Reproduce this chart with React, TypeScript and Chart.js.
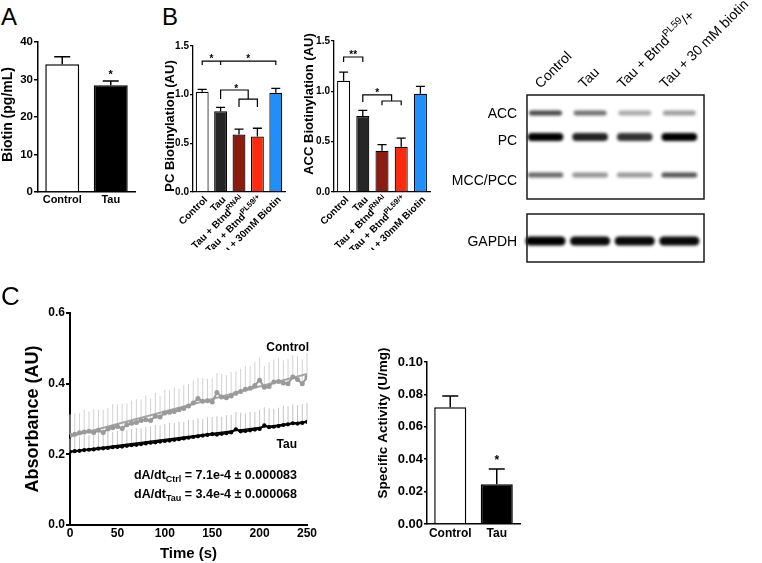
import React, { useEffect, useRef } from 'react';
import { Chart, registerables } from 'chart.js';

Chart.register(...registerables);

const FONT = '"Liberation Sans", Arial, Helvetica, sans-serif';
Chart.defaults.font.family = FONT;
Chart.defaults.color = '#000';

type Seg = { t: string; sup?: boolean; sub?: boolean };

// ===== Panel A : plasma biotin =====
const aLabels = ['Control', 'Tau'];
const aMeans = [34.1, 28.5];
const aErrs = [2.0, 1.1];
const aStars = ['', '*'];
const aColors = ['#ffffff', '#000000'];

// ===== Panel B : carboxylase biotinylation =====
const bLabels = ['Control', 'Tau', 'Tau + BtndRNAi', 'Tau + BtndPL59/+', 'Tau + 30mM Biotin'];
const bLabelSegs: Seg[][] = [
  [{ t: 'Control' }],
  [{ t: 'Tau' }],
  [{ t: 'Tau + Btnd' }, { t: 'RNAi', sup: true }],
  [{ t: 'Tau + Btnd' }, { t: 'PL59/+', sup: true }],
  [{ t: 'Tau + 30mM Biotin' }],
];
const bColors = ['#ffffff', '#262626', '#8c1b10', '#ff2a0c', '#1e8ffc'];
const pcMeans = [1.03, 0.83, 0.59, 0.57, 1.02];
const pcErrs = [0.025, 0.04, 0.055, 0.085, 0.045];
const accMeans = [1.105, 0.755, 0.41, 0.45, 0.975];
const accErrs = [0.085, 0.055, 0.06, 0.085, 0.075];
// significance brackets: polylines in (category index, value) coordinates
const pcSigLines: number[][][] = [
  [[0, 1.305], [0, 1.345], [4, 1.345], [4, 1.305]],
  [[1, 1.345], [1, 1.305]],
  [[1, 0.955], [1, 1.048], [2.5, 1.048], [2.5, 0.955]],
  [[2, 0.873], [2, 0.955], [3, 0.955], [3, 0.873]],
];
const pcSigStars = [
  { x: 0.5, y: 1.39, t: '*' },
  { x: 2.5, y: 1.39, t: '*' },
  { x: 1.85, y: 1.085, t: '*' },
];
const accSigLines: number[][][] = [
  [[0, 1.291], [0, 1.341], [1, 1.341], [1, 1.291]],
  [[1, 0.894], [1, 0.964], [2.5, 0.964], [2.5, 0.904]],
  [[2, 0.861], [2, 0.904], [3, 0.904], [3, 0.861]],
];
const accSigStars = [
  { x: 0.5, y: 1.39, t: '**' },
  { x: 1.75, y: 1.013, t: '*' },
];

// ===== Western blot =====
const blotLanes: Seg[][] = [
  [{ t: 'Control' }],
  [{ t: 'Tau' }],
  [{ t: 'Tau + Btnd' }, { t: 'PL59', sup: true }, { t: '/+' }],
  [{ t: 'Tau + 30 mM biotin' }],
];
const blotBands = ['ACC', 'PC', 'MCC/PCC', 'GAPDH'];
const bandMigration = [18, 42, 80, 146];
const bandLabelPos = [19, 46, 86, 147];
const bandSignal = [
  [0.72, 0.56, 0.33, 0.38],
  [1.0, 0.87, 0.8, 1.0],
  [0.6, 0.42, 0.4, 0.68],
  [1.0, 0.97, 0.97, 0.97],
];
const membranes = [[0, 104], [119, 167]];

// ===== Panel C : enzyme kinetics =====
const timeS = [0, 5, 10, 15, 20, 25, 30, 35, 40, 45, 50, 55, 60, 65, 70, 75, 80, 85, 90, 95, 100, 105, 110, 115, 120, 125, 130, 135, 140, 145, 150, 155, 160, 165, 170, 175, 180, 185, 190, 195, 200, 205, 210, 215, 220, 225, 230, 235, 240, 245, 250];
const ctrlAbs = [0.255, 0.257, 0.261, 0.263, 0.265, 0.262, 0.268, 0.262, 0.272, 0.275, 0.279, 0.273, 0.284, 0.288, 0.29, 0.296, 0.298, 0.296, 0.308, 0.306, 0.317, 0.319, 0.321, 0.326, 0.33, 0.337, 0.345, 0.358, 0.35, 0.352, 0.348, 0.375, 0.362, 0.36, 0.365, 0.373, 0.378, 0.384, 0.387, 0.395, 0.41, 0.39, 0.392, 0.405, 0.406, 0.402, 0.4, 0.419, 0.412, 0.4, 0.418];
const ctrlErr = [0.058, 0.06, 0.055, 0.062, 0.057, 0.066, 0.058, 0.064, 0.06, 0.067, 0.062, 0.07, 0.06, 0.064, 0.066, 0.059, 0.068, 0.062, 0.066, 0.06, 0.065, 0.063, 0.068, 0.06, 0.066, 0.062, 0.064, 0.058, 0.066, 0.062, 0.067, 0.055, 0.066, 0.064, 0.068, 0.062, 0.064, 0.066, 0.063, 0.067, 0.064, 0.06, 0.068, 0.063, 0.067, 0.064, 0.07, 0.062, 0.066, 0.069, 0.068];
const tauAbs = [0.207, 0.209, 0.21, 0.212, 0.213, 0.214, 0.216, 0.217, 0.218, 0.22, 0.221, 0.222, 0.224, 0.226, 0.227, 0.229, 0.231, 0.233, 0.234, 0.236, 0.238, 0.239, 0.241, 0.243, 0.245, 0.247, 0.249, 0.251, 0.253, 0.255, 0.257, 0.256, 0.258, 0.26, 0.262, 0.271, 0.265, 0.266, 0.268, 0.27, 0.272, 0.282, 0.277, 0.278, 0.28, 0.283, 0.285, 0.288, 0.287, 0.289, 0.292];
const tauErr = [0.038, 0.042, 0.04, 0.044, 0.041, 0.043, 0.045, 0.042, 0.046, 0.043, 0.045, 0.047, 0.044, 0.046, 0.048, 0.045, 0.047, 0.046, 0.049, 0.046, 0.048, 0.05, 0.047, 0.049, 0.046, 0.05, 0.048, 0.051, 0.047, 0.05, 0.049, 0.052, 0.048, 0.051, 0.05, 0.049, 0.053, 0.05, 0.052, 0.05, 0.054, 0.051, 0.053, 0.05, 0.052, 0.055, 0.051, 0.053, 0.052, 0.054, 0.053];
const fitTimes = [0, 250];
const ctrlFit = [0.2503, 0.4278];
const tauFit = [0.2082, 0.2932];
const ctrlSlope: Seg[] = [{ t: 'dA/dt' }, { t: 'Ctrl', sub: true }, { t: ' = 7.1e-4 ± 0.000083' }];
const tauSlope: Seg[] = [{ t: 'dA/dt' }, { t: 'Tau', sub: true }, { t: ' = 3.4e-4 ± 0.000068' }];

// ===== Panel C right : specific activity =====
const saLabels = ['Control', 'Tau'];
const saMeans = [0.072, 0.0245];
const saErrs = [0.007, 0.0095];
const saStars = ['', '*'];
const saColors = ['#ffffff', '#000000'];

function drawSegs(
  ctx: CanvasRenderingContext2D,
  segs: Seg[],
  x: number,
  y: number,
  o: { angle?: number; size: number; small: number; bold?: boolean; align?: 'left' | 'right'; dy?: number }
) {
  const w = o.bold ? 'bold ' : '';
  const main = `${w}${o.size}px ${FONT}`;
  const small = `${w}${o.small}px ${FONT}`;
  ctx.save();
  ctx.translate(x, y);
  if (o.angle) ctx.rotate(o.angle);
  ctx.textAlign = 'left';
  ctx.textBaseline = 'alphabetic';
  ctx.fillStyle = '#000';
  const widths = segs.map((s) => {
    ctx.font = s.sup || s.sub ? small : main;
    return ctx.measureText(s.t).width;
  });
  const total = widths.reduce((a, b) => a + b, 0);
  let cx = o.align === 'right' ? -total : 0;
  const dy = o.dy || 0;
  segs.forEach((s, i) => {
    ctx.font = s.sup || s.sub ? small : main;
    const off = s.sup ? -o.size * 0.42 : s.sub ? o.size * 0.3 : 0;
    ctx.fillText(s.t, cx, dy + off);
    cx += widths[i];
  });
  ctx.restore();
}

function drawStar(ctx: CanvasRenderingContext2D, t: string, x: number, yCenter: number, size: number) {
  ctx.save();
  ctx.font = `bold ${size}px ${FONT}`;
  ctx.textAlign = 'center';
  ctx.textBaseline = 'alphabetic';
  ctx.fillStyle = '#000';
  ctx.fillText(t, x, yCenter + size * 0.57);
  ctx.restore();
}

type BarOpts = {
  labels: string[];
  means: number[];
  errs: number[];
  colors: string[];
  yMax: number;
  yStep: number;
  dec: number;
  pad: { left: number; top: number; right: number; bottom: number };
  yWidth: number;
  xHeight: number;
  tickSize: number;
  tickLen: number;
  tickPad: number;
  showX: boolean;
  xSize: number;
  xPad: number;
  barPct: number;
  cap: number;
  lw: number;
  borderW: number;
  yTitle: string;
  yTitleSize: number;
  yTitleDx: number;
  yTitleDy: number;
  extra?: (chart: any) => void;
};

function barConfig(o: BarOpts): any {
  const overlay = {
    id: 'overlay',
    afterDatasetsDraw(chart: any) {
      const { ctx, chartArea } = chart;
      const x = chart.scales.x;
      const y = chart.scales.y;
      ctx.save();
      ctx.strokeStyle = '#000';
      ctx.lineWidth = o.lw;
      o.means.forEach((m, i) => {
        const px = x.getPixelForValue(i);
        const y0 = y.getPixelForValue(m);
        const y1 = y.getPixelForValue(m + o.errs[i]);
        ctx.beginPath();
        ctx.moveTo(px, y0);
        ctx.lineTo(px, y1);
        ctx.moveTo(px - o.cap, y1);
        ctx.lineTo(px + o.cap, y1);
        ctx.stroke();
      });
      ctx.restore();
      ctx.save();
      ctx.translate(chartArea.left - o.yTitleDx, (chartArea.top + chartArea.bottom) / 2 + o.yTitleDy);
      ctx.rotate(-Math.PI / 2);
      ctx.font = `bold ${o.yTitleSize}px ${FONT}`;
      ctx.textAlign = 'center';
      ctx.textBaseline = 'middle';
      ctx.fillStyle = '#000';
      ctx.fillText(o.yTitle, 0, 0);
      ctx.restore();
      if (o.extra) o.extra(chart);
    },
  };
  return {
    type: 'bar',
    data: {
      labels: o.labels,
      datasets: [
        {
          data: o.means,
          backgroundColor: o.colors,
          borderColor: '#000',
          borderWidth: o.borderW,
          barPercentage: o.barPct,
          categoryPercentage: 1,
        },
      ],
    },
    options: {
      responsive: false,
      animation: false,
      layout: { padding: o.pad },
      plugins: { legend: { display: false }, tooltip: { enabled: false } },
      scales: {
        x: {
          offset: true,
          grid: { display: false, drawTicks: false },
          border: { display: true, color: '#000', width: o.lw },
          ticks: {
            display: o.showX,
            font: { size: o.xSize, weight: 'bold' },
            color: '#000',
            padding: o.xPad,
            maxRotation: 0,
            autoSkip: false,
          },
          afterFit: (s: any) => {
            s.height = o.xHeight;
          },
        },
        y: {
          min: 0,
          max: o.yMax,
          grid: { display: true, drawOnChartArea: false, drawTicks: true, tickLength: o.tickLen, color: '#000', lineWidth: o.lw },
          border: { display: true, color: '#000', width: o.lw },
          ticks: {
            stepSize: o.yStep,
            font: { size: o.tickSize, weight: 'bold' },
            color: '#000',
            padding: o.tickPad,
            callback: (v: any) => Number(v).toFixed(o.dec),
          },
          afterFit: (s: any) => {
            s.width = o.yWidth;
          },
        },
      },
    },
    plugins: [overlay],
  };
}

function starsExtra(means: number[], errs: number[], stars: string[], size: number, gap: number) {
  return (chart: any) => {
    const { ctx } = chart;
    const x = chart.scales.x;
    const y = chart.scales.y;
    stars.forEach((s, i) => {
      if (!s) return;
      drawStar(ctx, s, x.getPixelForValue(i), y.getPixelForValue(means[i] + errs[i]) - gap, size);
    });
  };
}

function bExtra(lines: number[][][], stars: { x: number; y: number; t: string }[]) {
  return (chart: any) => {
    const { ctx, chartArea } = chart;
    const x = chart.scales.x;
    const y = chart.scales.y;
    ctx.save();
    ctx.strokeStyle = '#000';
    ctx.lineWidth = 1.2;
    lines.forEach((pl) => {
      ctx.beginPath();
      pl.forEach(([cx, cy], k) => {
        const px = x.getPixelForValue(cx);
        const py = y.getPixelForValue(cy);
        if (k === 0) ctx.moveTo(px, py);
        else ctx.lineTo(px, py);
      });
      ctx.stroke();
    });
    ctx.restore();
    stars.forEach((s) => drawStar(ctx, s.t, x.getPixelForValue(s.x), y.getPixelForValue(s.y), 10));
    bLabelSegs.forEach((segs, i) => {
      drawSegs(ctx, segs, x.getPixelForValue(i) + 0.5, chartArea.bottom + 3, {
        angle: -Math.PI / 4,
        size: 10,
        small: 7.5,
        bold: true,
        align: 'right',
        dy: 7.4,
      });
    });
  };
}

function makeA() {
  return barConfig({
    labels: aLabels,
    means: aMeans,
    errs: aErrs,
    colors: aColors,
    yMax: 40,
    yStep: 10,
    dec: 0,
    pad: { left: 0, top: 12, right: 5, bottom: 0 },
    yWidth: 38,
    xHeight: 28,
    tickSize: 11.5,
    tickLen: 4,
    tickPad: 1,
    showX: true,
    xSize: 11,
    xPad: 1.4,
    barPct: 0.7,
    cap: 8,
    lw: 1.5,
    borderW: 1.5,
    yTitle: 'Biotin (pg/mL)',
    yTitleSize: 14,
    yTitleDx: 30,
    yTitleDy: -2.5,
    extra: starsExtra(aMeans, aErrs, aStars, 11, 9),
  });
}

function makePC() {
  return barConfig({
    labels: bLabels,
    means: pcMeans,
    errs: pcErrs,
    colors: bColors,
    yMax: 1.5,
    yStep: 0.5,
    dec: 1,
    pad: { left: 0, top: 16, right: 10, bottom: 0 },
    yWidth: 43,
    xHeight: 58,
    tickSize: 10,
    tickLen: 3,
    tickPad: 1,
    showX: false,
    xSize: 10,
    xPad: 0,
    barPct: 0.7,
    cap: 4.5,
    lw: 1.3,
    borderW: 1.2,
    yTitle: 'PC Biotinylation (AU)',
    yTitleSize: 13,
    yTitleDx: 23,
    yTitleDy: 7,
    extra: bExtra(pcSigLines, pcSigStars),
  });
}

function makeACC() {
  return barConfig({
    labels: bLabels,
    means: accMeans,
    errs: accErrs,
    colors: bColors,
    yMax: 1.5,
    yStep: 0.5,
    dec: 1,
    pad: { left: 0, top: 11, right: 10, bottom: 0 },
    yWidth: 39,
    xHeight: 58,
    tickSize: 10,
    tickLen: 3,
    tickPad: 1,
    showX: false,
    xSize: 10,
    xPad: 0,
    barPct: 0.68,
    cap: 4.5,
    lw: 1.3,
    borderW: 1.2,
    yTitle: 'ACC Biotinylation (AU)',
    yTitleSize: 13,
    yTitleDx: 25,
    yTitleDy: -12.5,
    extra: bExtra(accSigLines, accSigStars),
  });
}

function makeSA() {
  return barConfig({
    labels: saLabels,
    means: saMeans,
    errs: saErrs,
    colors: saColors,
    yMax: 0.1,
    yStep: 0.02,
    dec: 2,
    pad: { left: 0, top: 32, right: 10, bottom: 0 },
    yWidth: 67,
    xHeight: 39,
    tickSize: 13,
    tickLen: 3,
    tickPad: 1,
    showX: true,
    xSize: 12,
    xPad: 2.8,
    barPct: 0.69,
    cap: 8,
    lw: 1.5,
    borderW: 1.5,
    yTitle: 'Specific Activity (U/mg)',
    yTitleSize: 13.5,
    yTitleDx: 44,
    yTitleDy: -20,
    extra: starsExtra(saMeans, saErrs, saStars, 12, 12),
  });
}

const bandThick = [5, 8, 5, 9];
const bandHalfW = [0.37, 0.4, 0.4, 0.45];
const laneLabelShift = [-5, -6, -12, -14];

function makeBlot(): any {
  const blotPlugin = {
    id: 'blot',
    afterDraw(chart: any) {
      const { ctx, chartArea } = chart;
      const x = chart.scales.x;
      const y = chart.scales.y;
      ctx.save();
      ctx.filter = 'blur(1.4px)';
      bandSignal.forEach((row, b) => {
        const cy = y.getPixelForValue(bandMigration[b]);
        const th = bandThick[b];
        row.forEach((s, i) => {
          const cx = x.getPixelForValue(i + 1);
          const hw = x.getPixelForValue(1 + bandHalfW[b]) - x.getPixelForValue(1);
          const g = Math.round(255 * (1 - s));
          ctx.fillStyle = `rgb(${g},${g},${g})`;
          ctx.beginPath();
          if ((ctx as any).roundRect) (ctx as any).roundRect(cx - hw, cy - th / 2, 2 * hw, th, th / 2);
          else ctx.rect(cx - hw, cy - th / 2, 2 * hw, th);
          ctx.fill();
        });
      });
      ctx.filter = 'none';
      ctx.strokeStyle = '#1a1a1a';
      ctx.lineWidth = 1.5;
      membranes.forEach(([a, b]) => {
        const l = x.getPixelForValue(0.585);
        const r = x.getPixelForValue(4.554);
        const t = y.getPixelForValue(a);
        const bt = y.getPixelForValue(b);
        ctx.strokeRect(l, t, r - l, bt - t);
      });
      ctx.restore();
      blotLanes.forEach((segs, i) => {
        drawSegs(ctx, segs, x.getPixelForValue(i + 1) + laneLabelShift[i], chartArea.top - 6, {
          angle: -Math.PI / 4,
          size: 14,
          small: 10,
          bold: false,
          align: 'left',
        });
      });
    },
  };
  return {
    type: 'scatter',
    data: { datasets: [{ data: [] }] },
    options: {
      responsive: false,
      animation: false,
      layout: { padding: { left: 0, top: 95, right: 60.4, bottom: 18 } },
      plugins: { legend: { display: false }, tooltip: { enabled: false } },
      scales: {
        x: { type: 'linear', display: false, min: 0.5, max: 4.5 },
        y: {
          type: 'linear',
          reverse: true,
          min: 0,
          max: 167,
          grid: { display: false, drawTicks: false },
          border: { display: false },
          ticks: {
            autoSkip: false,
            font: { size: 14 },
            color: '#000',
            padding: 6,
            callback: (_v: any, i: number) => blotBands[i],
          },
          afterBuildTicks: (s: any) => {
            s.ticks = bandLabelPos.map((v) => ({ value: v }));
          },
          afterFit: (s: any) => {
            s.width = 83.2;
          },
        },
      },
    },
    plugins: [blotPlugin],
  };
}

function makeKinetics(): any {
  const errPlugin = {
    id: 'kinErr',
    beforeDatasetsDraw(chart: any) {
      const { ctx } = chart;
      const x = chart.scales.x;
      const y = chart.scales.y;
      ctx.save();
      ctx.lineWidth = 1;
      const draw = (vals: number[], errs: number[], color: string) => {
        ctx.strokeStyle = color;
        vals.forEach((v, i) => {
          const px = x.getPixelForValue(timeS[i]);
          ctx.beginPath();
          ctx.moveTo(px, y.getPixelForValue(v));
          ctx.lineTo(px, y.getPixelForValue(v + errs[i]));
          ctx.stroke();
        });
      };
      draw(ctrlAbs, ctrlErr, '#d2d2d2');
      draw(tauAbs, tauErr, '#c4c4c4');
      ctx.restore();
    },
    afterDraw(chart: any) {
      const { ctx, chartArea } = chart;
      drawSegs(ctx, [{ t: 'Control' }], chartArea.right + 2, chartArea.top + 38.3, { size: 12, small: 9, bold: true, align: 'right' });
      drawSegs(ctx, [{ t: 'Tau' }], chartArea.right - 10, chartArea.top + 135.3, { size: 12, small: 9, bold: true, align: 'right' });
      drawSegs(ctx, ctrlSlope, chartArea.right - 10, chartArea.top + 165.5, { size: 12.5, small: 9, bold: true, align: 'right' });
      drawSegs(ctx, tauSlope, chartArea.right - 10, chartArea.top + 184.5, { size: 12.5, small: 9, bold: true, align: 'right' });
    },
  };
  return {
    type: 'line',
    data: {
      datasets: [
        {
          data: timeS.map((t, i) => ({ x: t, y: tauAbs[i] })),
          borderColor: '#000',
          backgroundColor: '#000',
          borderWidth: 2,
          pointRadius: 2.1,
          pointBorderWidth: 0,
        },
        {
          data: fitTimes.map((t, i) => ({ x: t, y: tauFit[i] })),
          borderColor: '#000',
          borderWidth: 1.5,
          pointRadius: 0,
        },
        {
          data: timeS.map((t, i) => ({ x: t, y: ctrlAbs[i] })),
          borderColor: '#9a9a9a',
          backgroundColor: '#9a9a9a',
          borderWidth: 2,
          pointRadius: 2.5,
          pointBorderWidth: 0,
        },
        {
          data: fitTimes.map((t, i) => ({ x: t, y: ctrlFit[i] })),
          borderColor: '#a4a4a4',
          borderWidth: 2,
          pointRadius: 0,
        },
      ],
    },
    options: {
      responsive: false,
      animation: false,
      layout: { padding: { left: 0, top: 23, right: 23, bottom: 0 } },
      plugins: { legend: { display: false }, tooltip: { enabled: false } },
      scales: {
        x: {
          type: 'linear',
          min: 0,
          max: 250,
          grid: { display: false, drawTicks: false },
          border: { display: true, color: '#000', width: 2 },
          ticks: { stepSize: 50, font: { size: 12, weight: 'bold' }, color: '#000', padding: 1 },
          title: { display: true, text: 'Time (s)', font: { size: 15, weight: 'bold' }, color: '#000', padding: { top: 0, bottom: 0 } },
          afterFit: (s: any) => {
            s.height = 38;
          },
        },
        y: {
          min: 0,
          max: 0.6,
          grid: { display: true, drawOnChartArea: false, drawTicks: true, tickLength: 4, color: '#000', lineWidth: 2 },
          border: { display: true, color: '#000', width: 2 },
          ticks: {
            stepSize: 0.2,
            font: { size: 12, weight: 'bold' },
            color: '#000',
            padding: 1,
            callback: (v: any) => Number(v).toFixed(1),
          },
          title: { display: true, text: 'Absorbance (AU)', font: { size: 18, weight: 'bold' }, color: '#000', padding: { top: 22, bottom: 0 } },
          afterFit: (s: any) => {
            s.width = 70;
          },
        },
      },
    },
    plugins: [errPlugin],
  };
}

function ChartBox({ x, y, w, h, make }: { x: number; y: number; w: number; h: number; make: () => any }) {
  const ref = useRef<HTMLCanvasElement>(null);
  useEffect(() => {
    const chart = new Chart(ref.current as HTMLCanvasElement, make());
    return () => chart.destroy();
  }, []);
  return (
    <canvas
      ref={ref}
      width={w}
      height={h}
      style={{ position: 'absolute', left: x, top: y, width: w, height: h, display: 'block' }}
    />
  );
}

function Letter({ ch, x, y, size }: { ch: string; x: number; y: number; size: number }) {
  return (
    <div
      style={{
        position: 'absolute',
        left: x,
        top: y,
        fontFamily: FONT,
        fontSize: size,
        lineHeight: `${size}px`,
        color: '#000',
      }}
    >
      {ch}
    </div>
  );
}

export default function App() {
  return (
    <div
      style={{
        position: 'fixed',
        left: 0,
        top: 0,
        width: 762,
        height: 563,
        background: '#fff',
        overflow: 'hidden',
      }}
    >
      <ChartBox x={0} y={30} w={140} h={190} make={makeA} />
      <ChartBox x={150} y={30} w={145} h={220} make={makePC} />
      <ChartBox x={295} y={30} w={145} h={220} make={makeACC} />
      <ChartBox x={440} y={0} w={322} h={280} make={makeBlot} />
      <ChartBox x={0} y={290} w={330} h={273} make={makeKinetics} />
      <ChartBox x={360} y={330} w={170} h={233} make={makeSA} />
      <Letter ch="A" x={1} y={5} size={24} />
      <Letter ch="B" x={162} y={5} size={24} />
      <Letter ch="C" x={1} y={283} size={26} />
    </div>
  );
}
